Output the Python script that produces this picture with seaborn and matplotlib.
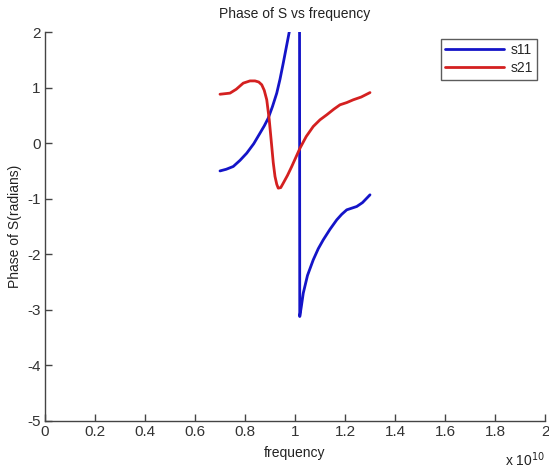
import numpy as np
import pandas as pd
import matplotlib
matplotlib.use("Agg")
import matplotlib.pyplot as plt
import seaborn as sns

# frequency in units of 1e10 Hz
s11_freq = [0.70, 0.725, 0.753, 0.78, 0.807, 0.835, 0.86, 0.877, 0.893, 0.91, 0.927, 0.94, 0.953,
            0.965, 0.977, 0.99, 1.005, 1.018, 1.019, 1.025, 1.033, 1.05, 1.073, 1.093, 1.113,
            1.14, 1.167, 1.187, 1.207, 1.227, 1.247, 1.27, 1.30]
s11_phase = [-0.50, -0.47, -0.42, -0.31, -0.18, -0.01, 0.18, 0.31, 0.45, 0.66, 0.90, 1.15, 1.44,
             1.72, 2.00, 2.40, 2.80, 3.14, -3.12, -2.95, -2.70, -2.38, -2.10, -1.90, -1.74,
             -1.55, -1.38, -1.28, -1.20, -1.17, -1.14, -1.07, -0.93]

s21_freq = [0.70, 0.72, 0.74, 0.765, 0.793, 0.82, 0.84, 0.855, 0.867, 0.877, 0.887, 0.897, 0.907,
            0.913, 0.92, 0.927, 0.933, 0.943, 0.953, 0.97, 0.987, 1.003, 1.02, 1.045, 1.073,
            1.10, 1.127, 1.155, 1.18, 1.207, 1.233, 1.265, 1.30]
s21_phase = [0.88, 0.89, 0.90, 0.97, 1.08, 1.12, 1.12, 1.10, 1.05, 0.95, 0.78, 0.42, -0.06,
             -0.35, -0.60, -0.74, -0.81, -0.80, -0.72, -0.58, -0.42, -0.26, -0.09, 0.12, 0.30,
             0.42, 0.51, 0.61, 0.69, 0.73, 0.78, 0.83, 0.91]

xticks = [0, 0.2, 0.4, 0.6, 0.8, 1, 1.2, 1.4, 1.6, 1.8, 2]
xticklabels = ["0", "0.2", "0.4", "0.6", "0.8", "1", "1.2", "1.4", "1.6", "1.8", "2"]
yticks = [-5, -4, -3, -2, -1, 0, 1, 2]
yticklabels = ["-5", "-4", "-3", "-2", "-1", "0", "1", "2"]

sns.set_style("white")
plt.rcParams['font.family'] = ['Liberation Sans', 'DejaVu Sans']
plt.rcParams['axes.unicode_minus'] = False

df = pd.concat([
    pd.DataFrame({"freq": s11_freq, "phase": s11_phase, "series": "s11"}),
    pd.DataFrame({"freq": s21_freq, "phase": s21_phase, "series": "s21"}),
])

fig = plt.figure(figsize=(5.49, 4.70), dpi=100)
ax = fig.add_axes([45/549, 1 - 421/470, 500/549, 389/470])
sns.lineplot(data=df, x="freq", y="phase", hue="series", sort=False, estimator=None,
             palette={"s11": "#1414c8", "s21": "#d42020"}, linewidth=2, ax=ax)

ax.set_xlim(0, 2)
ax.set_ylim(-5, 2)
ax.set_xticks(xticks)
ax.set_xticklabels(xticklabels)
ax.set_yticks(yticks)
ax.set_yticklabels(yticklabels)
ax.tick_params(direction="in", length=5, width=1, labelsize=11, color="#444444",
               labelcolor="#333333", pad=3, bottom=True, left=True)
for s in ["top", "right"]:
    ax.spines[s].set_visible(False)
for s in ["left", "bottom"]:
    ax.spines[s].set_color("#444444")
    ax.spines[s].set_linewidth(1)

ax.set_title("Phase of S vs frequency", fontsize=10, pad=10, color="#222222")
ax.set_xlabel("frequency", fontsize=10, labelpad=5, color="#222222")
ax.set_ylabel("Phase of S(radians)", fontsize=10, color="#222222")
ax.yaxis.set_label_coords(-0.046, 0.5)
ax.text(1.0, -0.075, r"x 10$^{10}$", transform=ax.transAxes, ha="right", va="top",
        fontsize=10, color="#222222")

leg = ax.legend(loc="upper right", bbox_to_anchor=(0.984, 0.982), borderaxespad=0,
                fontsize=10, frameon=True, fancybox=False, edgecolor="#333333",
                handlelength=4.2, handletextpad=0.5, borderpad=0.3, labelspacing=0.3)
leg.get_frame().set_linewidth(1)
leg.set_title(None)

fig.savefig("out.png", dpi=100)
